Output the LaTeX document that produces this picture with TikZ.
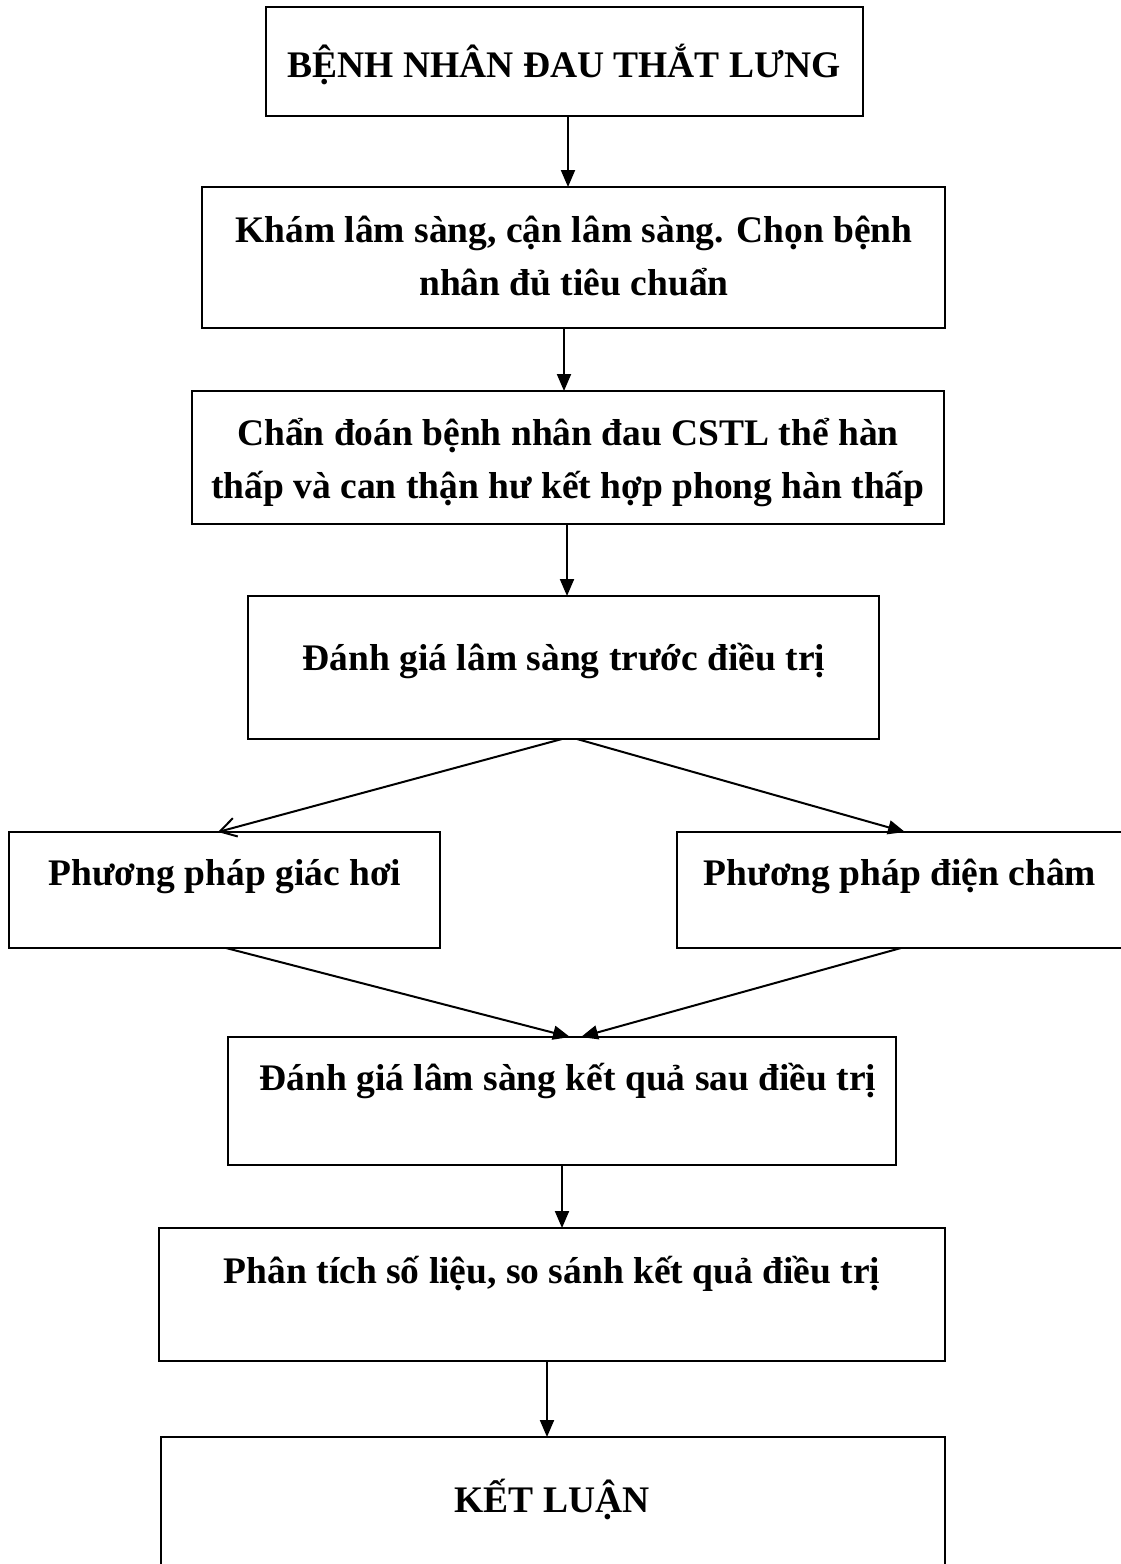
\documentclass[tikz,border=0pt]{standalone}
\usepackage{fontspec}
\setmainfont{Liberation Serif}
\usetikzlibrary{arrows.meta}
\begin{document}
\begin{tikzpicture}[x=1pt,y=-1pt,
  box/.style={draw, line width=2pt, rectangle, inner sep=0pt, outer sep=0pt},
  txt/.style={font=\fontsize{37.5}{53}\selectfont\bfseries, inner sep=0pt, anchor=base},
  arr/.style={line width=2pt, -{Triangle[length=17pt,width=14pt]}},
  arro/.style={line width=2pt, -{Straight Barb[length=16pt,width=19pt]}}]
\useasboundingbox (0,0) rectangle (1120,1564);
% boxes
\node[box, minimum width=597pt, minimum height=109pt] (b1) at (564.5,61.5) {};
\node[box, minimum width=743pt, minimum height=141pt] (b2) at (573.5,257.5) {};
\node[box, minimum width=752pt, minimum height=133pt] (b3) at (568,457.5) {};
\node[box, minimum width=631pt, minimum height=143pt] (b4) at (563.5,667.5) {};
\node[box, minimum width=431pt, minimum height=116pt] (b5) at (224.5,890) {};
\node[box, minimum width=446pt, minimum height=116pt] (b6) at (900,890) {};
\node[box, minimum width=668pt, minimum height=128pt] (b7) at (562,1101) {};
\node[box, minimum width=786pt, minimum height=133pt] (b8) at (552,1294.5) {};
\node[box, minimum width=784pt, minimum height=133pt] (b9) at (553,1503.5) {};
% texts
\node[txt] (t1) at (564,77) {BỆNH NHÂN ĐAU THẮT LƯNG};
\node[txt] (t2a) at (574,242) {Khám lâm sàng, cận lâm sàng. Chọn bệnh};
\node[txt] (t2b) at (574,295) {nhân đủ tiêu chuẩn};
\node[txt] (t3a) at (568,445) {Chẩn đoán bệnh nhân đau CSTL thể hàn};
\node[txt] (t3b) at (568,498) {thấp và can thận hư kết hợp phong hàn thấp};
\node[txt] (t4) at (564,670) {Đánh giá lâm sàng trước điều trị};
\node[txt] (t5) at (225,885) {Phương pháp giác hơi};
\node[txt] (t6) at (900,885) {Phương pháp điện châm};
\node[txt] (t7) at (568,1090) {Đánh giá lâm sàng kết quả sau điều trị};
\node[txt] (t8) at (552,1283) {Phân tích số liệu, so sánh kết quả điều trị};
\node[txt] (t9) at (552,1512) {KẾT LUẬN};
% connectors
\draw[arr] ([xshift=3.5pt]b1.south) -- ([xshift=3.5pt]b1.south |- b2.north);
\draw[arr] ([xshift=-9.5pt]b2.south) -- ([xshift=-9.5pt]b2.south |- b3.north);
\draw[arr] ([xshift=-1pt]b3.south) -- ([xshift=-1pt]b3.south |- b4.north);
\draw[arro] ([xshift=-1.5pt]b4.south) -- ([xshift=-6.5pt]b5.north);
\draw[arr] ([xshift=13.5pt]b4.south) -- ([xshift=5pt]b6.north);
\draw[arr] ([xshift=1.5pt]b5.south) -- ([xshift=8pt]b7.north);
\draw[arr] ([xshift=1pt]b6.south) -- ([xshift=19pt]b7.north);
\draw[arr] (b7.south) -- (b7.south |- b8.north);
\draw[arr] ([xshift=-5pt]b8.south) -- ([xshift=-5pt]b8.south |- b9.north);
\end{tikzpicture}
\end{document}
